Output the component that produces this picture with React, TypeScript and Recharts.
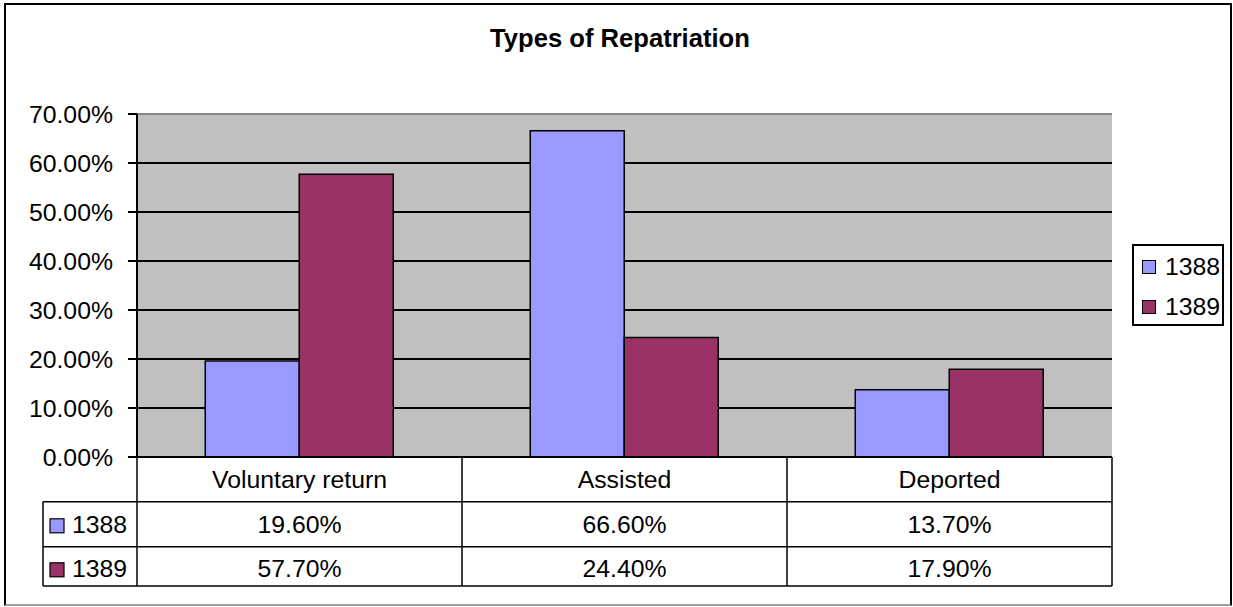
import { BarChart, Bar, XAxis, YAxis, CartesianGrid, ReferenceLine } from "recharts";

const categories = ["Voluntary return", "Assisted", "Deported"];
const values1388 = [19.6, 66.6, 13.7];
const values1389 = [57.7, 24.4, 17.9];
const yTicks = [0, 10, 20, 30, 40, 50, 60, 70];

const series = [
  { key: "y1388", name: "1388", color: "#9999FF", values: values1388 },
  { key: "y1389", name: "1389", color: "#993366", values: values1389 },
];

const data = categories.map((name, i) => ({
  name,
  y1388: values1388[i],
  y1389: values1389[i],
}));

const FONT = "'Liberation Sans', Arial, sans-serif";
const pct = (v: number) => `${v.toFixed(2)}%`;

// data-table rows under the plot, offsets from the axis line
const ROW_LINES = [44.7, 89.7, 129];
const ROW_TEXT = [30.7, 76.3, 120.3];
const KEY_COL = 94;

function TableTick(props: any) {
  const { x, y, payload, index, visibleTicksCount } = props;
  const half = payload?.offset ?? 162.5;
  const i = payload?.index ?? index;
  const left = x - half;
  const right = x + half;
  const line = { stroke: "#000", strokeWidth: 1.5 };
  const last = i === (visibleTicksCount ?? categories.length) - 1;

  return (
    <g fontFamily={FONT} fontSize={24.8} fill="#000">
      <line x1={left} x2={left} y1={y} y2={y + ROW_LINES[2]} {...line} />
      {last && <line x1={right} x2={right} y1={y} y2={y + ROW_LINES[2]} {...line} />}
      {ROW_LINES.map((d) => (
        <line key={d} x1={left} x2={right} y1={y + d} y2={y + d} {...line} />
      ))}
      <text x={x} y={y + ROW_TEXT[0]} textAnchor="middle">
        {payload.value}
      </text>
      {series.map((s, r) => (
        <text key={s.key} x={x} y={y + ROW_TEXT[r + 1]} textAnchor="middle">
          {pct(s.values[i])}
        </text>
      ))}
      {i === 0 && (
        <g>
          <line x1={left - KEY_COL} x2={left - KEY_COL} y1={y + ROW_LINES[0]} y2={y + ROW_LINES[2]} {...line} />
          {ROW_LINES.map((d) => (
            <line key={d} x1={left - KEY_COL} x2={left} y1={y + d} y2={y + d} {...line} />
          ))}
          {series.map((s, r) => (
            <g key={s.key}>
              <rect
                x={left - KEY_COL + 7}
                y={y + ROW_TEXT[r + 1] - 14.5}
                width={14}
                height={14}
                fill={s.color}
                stroke="#000"
                strokeWidth={1.2}
              />
              <text x={left - KEY_COL + 29} y={y + ROW_TEXT[r + 1]}>
                {s.name}
              </text>
            </g>
          ))}
        </g>
      )}
    </g>
  );
}

export default function App() {
  return (
    <div style={{ position: "absolute", left: 0, top: 0, width: 1233, height: 607, fontFamily: FONT }}>
      <div
        style={{
          position: "absolute",
          left: 4,
          top: 3,
          width: 1228,
          height: 603,
          boxSizing: "border-box",
          border: "2px solid #000",
          borderBottomColor: "#a0a0a0",
        }}
      />
      <div
        style={{
          position: "absolute",
          left: 0,
          top: 26,
          width: 1240,
          textAlign: "center",
          fontSize: 25.6,
          lineHeight: "25px",
          fontWeight: "bold",
        }}
      >
        Types of Repatriation
      </div>
      <div style={{ position: "absolute", left: 0, top: 0 }}>
        <BarChart
          width={1233}
          height={607}
          data={data}
          margin={{ top: 114, right: 121, bottom: 0, left: 37 }}
          barCategoryGap="21%"
          barGap={0}
        >
          <CartesianGrid
            fill="#C0C0C0"
            fillOpacity={1}
            vertical={false}
            horizontalValues={[10, 20, 30, 40, 50, 60]}
            stroke="#000"
            strokeWidth={2}
          />
          <ReferenceLine y={70} stroke="#888" strokeWidth={2} />
          <XAxis
            dataKey="name"
            height={150}
            interval={0}
            tickLine={false}
            tickSize={0}
            tickMargin={0}
            axisLine={{ stroke: "#000", strokeWidth: 2 }}
            tick={<TableTick />}
          />
          <YAxis
            width={100}
            domain={[0, 70]}
            ticks={yTicks}
            tickFormatter={pct}
            tickSize={9}
            tickMargin={15}
            axisLine={{ stroke: "#000", strokeWidth: 2 }}
            tickLine={{ stroke: "#000", strokeWidth: 2 }}
            tick={{ fill: "#000", fontSize: 24.8, fontFamily: FONT }}
          />
          <YAxis
            yAxisId="frame"
            orientation="right"
            width={0}
            domain={[0, 70]}
            tick={false}
            tickLine={false}
            axisLine={{ stroke: "#888", strokeWidth: 2 }}
          />
          {series.map((s) => (
            <Bar
              key={s.key}
              dataKey={s.key}
              name={s.name}
              fill={s.color}
              stroke="#000"
              strokeWidth={1.5}
              isAnimationActive={false}
            />
          ))}
        </BarChart>
      </div>
      <div
        style={{
          position: "absolute",
          left: 1132,
          top: 244,
          width: 92,
          height: 82,
          boxSizing: "border-box",
          border: "2px solid #000",
          background: "#fff",
        }}
      />
      {series.map((s, r) => (
        <div key={s.key}>
          <div
            style={{
              position: "absolute",
              left: 1142,
              top: 260 + r * 40,
              width: 14,
              height: 14,
              boxSizing: "border-box",
              border: "1.2px solid #000",
              background: s.color,
            }}
          />
          <div
            style={{
              position: "absolute",
              left: 1165,
              top: 255 + r * 40,
              fontSize: 24.8,
              lineHeight: "24px",
            }}
          >
            {s.name}
          </div>
        </div>
      ))}
    </div>
  );
}
